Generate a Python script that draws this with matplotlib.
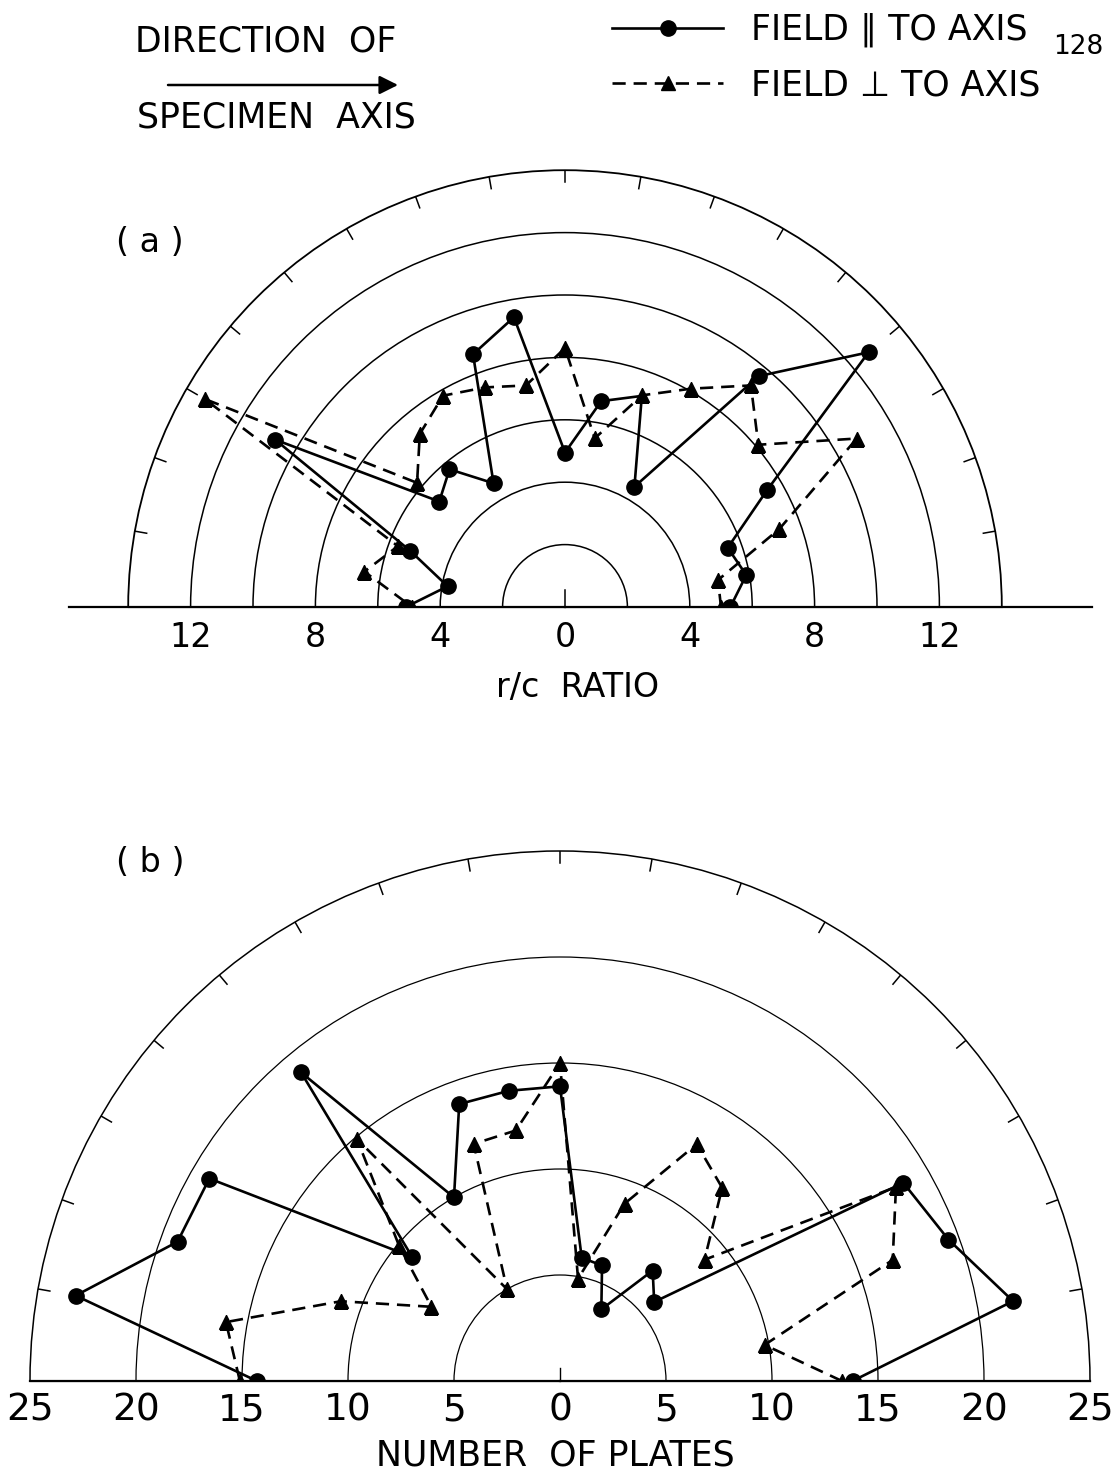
import numpy as np
import matplotlib.pyplot as plt
from matplotlib.lines import Line2D

plt.rcParams['font.family'] = ['DejaVu Sans']

# angle from specimen axis, degrees (0 = right, 180 = left)
angles = np.arange(0, 181, 10)

# (a) r/c ratio
rc_par = [5.3, 5.9, 5.55, 7.47, 12.7, 9.66, 4.45, 7.2, 6.7, 4.95,
          9.43, 8.62, 4.58, 5.76, 5.26, 10.73, 5.29, 3.82, 5.1]
rc_perp = [5.0, 4.98, 7.31, 10.8, 8.09, 9.27, 8.08, 7.22, 5.49, 8.3,
           7.21, 7.49, 7.82, 7.24, 6.19, 13.34, 5.7, 6.53, 4.9]

# (b) number of plates
n_par = [13.8, 21.7, 19.5, 18.7, 5.8, 6.8, 3.9, 5.8, 5.9, 13.9,
         13.9, 13.9, 10.0, 19.0, 9.1, 19.1, 19.2, 23.2, 14.3]
n_perp = [13.3, 9.8, 16.7, 18.3, 8.9, 11.9, 12.9, 8.9, 4.9, 15.0,
          12.0, 11.9, 5.0, 14.9, 9.9, 7.0, 11.0, 16.0, 15.1]

rings_a = [2, 4, 6, 8, 10, 12]
labels_a = [4, 8, 12]
rings_b = [5, 10, 15, 20]
labels_b = [5, 10, 15, 20, 25]
rim_ticks = np.arange(10, 171, 10)

W, H = 1112, 1479
fig = plt.figure(figsize=(W / 100, H / 100), dpi=100)

th = np.deg2rad(angles)
par_style = dict(color='k', lw=1.9, ls='-', marker='o', ms=11)
perp_style = dict(color='k', lw=1.9, ls=(0, (5, 3)), marker='^', ms=10)


def half_polar(cx, cy, rmax, ppu, rings, ring_lw):
    # square axes so the half disc sits where we want it
    R = rmax * ppu
    D = 2 * R
    ax = fig.add_axes([(cx - R) / W, (H - cy - D / 4) / H, D / W, D / H],
                      projection='polar')
    ax.set_thetamin(0)
    ax.set_thetamax(180)
    ax.set_rlim(0, rmax)
    ax.set_yticks(rings)
    ax.set_yticklabels([])
    ax.set_xticks([])
    ax.xaxis.grid(False)
    ax.yaxis.grid(True, color='k', lw=ring_lw)
    ax.tick_params(axis='y', length=0)
    ax.spines['polar'].set_linewidth(ring_lw + 0.2)
    ax.spines['start'].set_visible(False)
    ax.spines['end'].set_visible(False)
    # short inward ticks on the rim every 10 degrees
    d = 12 / ppu
    for a in np.deg2rad(rim_ticks):
        ax.plot([a, a], [rmax - d, rmax], color='k', lw=1.1)
    return ax


def tick_labels(ax, vals, fs, off):
    ax.annotate('0', xy=(0, 0), xytext=(0, -off), textcoords='offset points',
                ha='center', va='center', fontsize=fs, annotation_clip=False)
    for v in vals:
        for t in (0, np.pi):
            ax.annotate(str(v), xy=(t, v), xytext=(0, -off),
                        textcoords='offset points', ha='center', va='center',
                        fontsize=fs, annotation_clip=False)


# ---- panel (a) ----
axa = half_polar(565, 607, 14, 31.2, rings_a, 1.1)
axa.plot([0, 0], [0, 16.9], color='k', lw=1.6, clip_on=False)
axa.plot([np.pi, np.pi], [0, 15.9], color='k', lw=1.6, clip_on=False)
axa.plot([np.pi / 2, np.pi / 2], [0, 0.55], color='k', lw=1.1)
axa.plot(th, rc_perp, **perp_style, zorder=3)
axa.plot(th, rc_par, **par_style, zorder=4,
         markevery=[i for i in range(len(angles)) if angles[i] != 70])
tick_labels(axa, labels_a, 24, 22)
fig.text(578 / W, 1 - 688 / H, 'r/c  RATIO', ha='center', va='center', fontsize=24)
fig.text(150 / W, 1 - 243 / H, '( a )', ha='center', va='center', fontsize=24)

# ---- panel (b) ----
axb = half_polar(560, 1381, 25, 21.2, rings_b, 0.9)
axb.plot([0, 0], [0, 25], color='k', lw=1.6, clip_on=False)
axb.plot([np.pi, np.pi], [0, 25], color='k', lw=1.6, clip_on=False)
axb.plot([np.pi / 2, np.pi / 2], [0, 0.6], color='k', lw=1.0)
axb.plot(th, n_perp, **perp_style, zorder=3)
axb.plot(th, n_par, **par_style, zorder=4)
tick_labels(axb, labels_b, 27, 21)
fig.text(555 / W, 1 - 1455 / H, 'NUMBER  OF PLATES', ha='center', va='center', fontsize=25)
fig.text(150 / W, 1 - 862 / H, '( b )', ha='center', va='center', fontsize=24)

# ---- header ----
fig.text(266 / W, 1 - 42 / H, 'DIRECTION  OF', ha='center', va='center', fontsize=25)
fig.text(276 / W, 1 - 118 / H, 'SPECIMEN  AXIS', ha='center', va='center', fontsize=25)
fig.add_artist(plt.Annotation('', xy=(398 / W, 1 - 85 / H), xytext=(168 / W, 1 - 85 / H),
                              xycoords='figure fraction',
                              arrowprops=dict(arrowstyle='-|>', lw=1.8, color='k',
                                              mutation_scale=28, shrinkA=0, shrinkB=0)))

h_par = Line2D([], [], **par_style)
h_perp = Line2D([], [], **perp_style)
fig.legend([h_par, h_perp], ['FIELD \u2225 TO AXIS', 'FIELD \u22a5 TO AXIS'],
           loc='upper left', bbox_to_anchor=(612 / W, 1 - 13 / H), frameon=False,
           fontsize=25, handlelength=3.2, handletextpad=0.8, labelspacing=0.6,
           borderpad=0, borderaxespad=0, numpoints=1)
fig.text(1078 / W, 1 - 47 / H, '128', ha='center', va='center', fontsize=19)

fig.savefig('out.png', dpi=100)
